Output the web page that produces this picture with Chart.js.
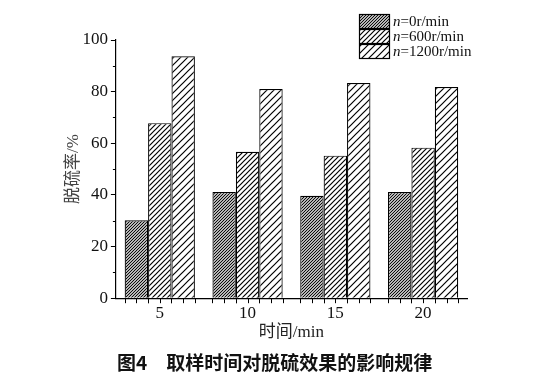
<!DOCTYPE html>
<html>
<head>
<meta charset="utf-8">
<script src="https://cdn.jsdelivr.net/npm/chart.js@4.4.1/dist/chart.umd.min.js"></script>
<style>
  html, body { margin: 0; padding: 0; background: #fff; }
  #wrap { position: relative; width: 539px; height: 385px; }
  #caption {
    position: absolute; left: 117px; top: 349px;
    font-family: "Noto Sans CJK SC", sans-serif; font-weight: bold;
    font-size: 19px; line-height: 26px; color: #111; white-space: nowrap;
  }
</style>
</head>
<body>
<div id="wrap">
  <canvas id="chart" width="539" height="385"></canvas>
  <div id="caption">图4　取样时间对脱硫效果的影响规律</div>
</div>
<script>
// 数据：取样时间 (min) 与各转速下的脱硫率 (%)
const times = ['5', '10', '15', '20'];
const speedLabels = ['=0r/min', '=600r/min', '=1200r/min'];
const rate0 = [30.2, 41.1, 39.7, 41.1];
const rate600 = [67.8, 56.7, 55.2, 58.3];
const rate1200 = [93.7, 81.0, 83.3, 81.8];
const yTicks = [0, 20, 40, 60, 80, 100];
const yMinorTicks = [10, 30, 50, 70, 90];

const serif = '"Liberation Serif", "Times New Roman", serif';

// 斜线填充
function hatch(step, width, bg) {
    const c = document.createElement('canvas');
    c.width = step;
    c.height = step;
    const g = c.getContext('2d');
    g.fillStyle = bg;
    g.fillRect(0, 0, step, step);
    g.strokeStyle = '#000';
    g.lineWidth = width;
    g.beginPath();
    g.moveTo(-1, step + 1);
    g.lineTo(step + 1, -1);
    g.moveTo(-1, 1);
    g.lineTo(1, -1);
    g.moveTo(step - 1, step + 1);
    g.lineTo(step + 1, step - 1);
    g.stroke();
    return g.createPattern(c, 'repeat');
}

const patterns = [hatch(3, 1.1, '#fff'), hatch(5, 1.2, '#fff'), hatch(7, 1.2, '#fff')];

// 坐标轴小刻度 + 图例
const extras = {
    id: 'extras',
    afterDraw(chart) {
        const ctx = chart.ctx;
        const area = chart.chartArea;
        const y = chart.scales.y;
        ctx.save();
        ctx.strokeStyle = '#000';
        ctx.lineWidth = 1;
        ctx.beginPath();
        // x 轴刻度：按柱子的边和中线
        chart.data.datasets.forEach((ds, i) => {
            chart.getDatasetMeta(i).data.forEach(bar => {
                const half = bar.width / 2;
                [bar.x - half, bar.x, bar.x + half].forEach(px => {
                    const xx = Math.round(px) + 0.5;
                    ctx.moveTo(xx, area.bottom);
                    ctx.lineTo(xx, area.bottom + 5);
                });
            });
        });
        // y 轴次刻度
        yMinorTicks.forEach(v => {
            const py = Math.round(y.getPixelForValue(v)) + 0.5;
            ctx.moveTo(area.left - 3, py);
            ctx.lineTo(area.left, py);
        });
        ctx.stroke();

        // 图例
        const bx = 359, by = 14, bw = 31, bh = 15;
        chart.data.datasets.forEach((ds, i) => {
            const top = by + i * bh;
            ctx.fillStyle = ds.backgroundColor;
            ctx.fillRect(bx, top, bw, bh);
            ctx.strokeStyle = '#000';
            ctx.lineWidth = 1.2;
            ctx.strokeRect(bx + 0.5, top + 0.5, bw - 1, bh - 1);
            ctx.fillStyle = '#111';
            ctx.textBaseline = 'middle';
            ctx.font = 'italic 15px ' + serif;
            ctx.fillText('n', bx + bw + 3, top + bh / 2 + 1);
            const nw = ctx.measureText('n').width;
            ctx.font = '15px ' + serif;
            ctx.fillText(speedLabels[i], bx + bw + 3 + nw, top + bh / 2 + 1);
        });
        ctx.restore();
    }
};

function makeDataset(label, data, pattern) {
    return {
        label: label,
        data: data,
        backgroundColor: pattern,
        borderColor: '#000',
        borderWidth: 1.2,
        categoryPercentage: 0.8,
        barPercentage: 1.0
    };
}

function createChart() {
    const ctx = document.getElementById('chart').getContext('2d');
    new Chart(ctx, {
        type: 'bar',
        data: {
            labels: times,
            datasets: [
                makeDataset('n' + speedLabels[0], rate0, patterns[0]),
                makeDataset('n' + speedLabels[1], rate600, patterns[1]),
                makeDataset('n' + speedLabels[2], rate1200, patterns[2])
            ]
        },
        options: {
            responsive: false,
            animation: false,
            layout: { padding: { left: 59, right: 72, top: 40, bottom: 42 } },
            plugins: {
                legend: { display: false },
                tooltip: { enabled: false }
            },
            scales: {
                x: {
                    grid: { display: false, drawTicks: false },
                    border: { display: true, color: '#000', width: 1.2 },
                    ticks: {
                        padding: 5,
                        color: '#111',
                        font: { family: serif, size: 17 }
                    },
                    title: {
                        display: true,
                        text: '时间/min',
                        color: '#222',
                        padding: { top: -6, bottom: 0 },
                        font: { family: serif + ', "Noto Sans CJK SC"', size: 17 }
                    }
                },
                y: {
                    min: 0,
                    max: 100,
                    afterBuildTicks: scale => {
                        scale.ticks = yTicks.map(v => ({ value: v }));
                    },
                    grid: {
                        drawOnChartArea: false,
                        drawTicks: true,
                        tickLength: 5,
                        tickColor: '#000'
                    },
                    border: { display: true, color: '#000', width: 1.2 },
                    ticks: {
                        padding: 3,
                        color: '#111',
                        font: { family: serif, size: 17 }
                    },
                    title: {
                        display: true,
                        text: '脱硫率/%',
                        color: '#444',
                        padding: { top: 4, bottom: -4 },
                        font: { family: serif + ', "Noto Sans CJK SC"', size: 17 }
                    }
                }
            }
        },
        plugins: [extras]
    });
}

document.addEventListener('DOMContentLoaded', createChart);
</script>
</body>
</html>
